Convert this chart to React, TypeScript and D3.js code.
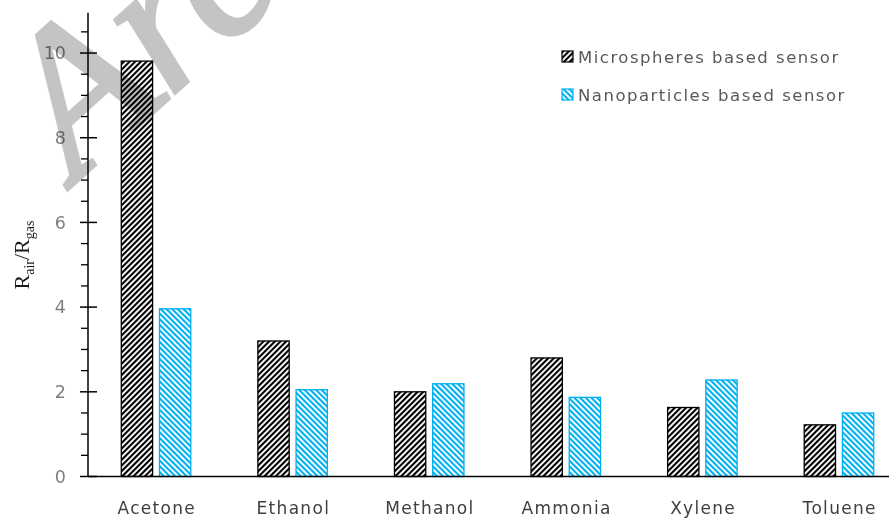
import React from "react";
import * as d3 from "d3";

const categories = ["Acetone", "Ethanol", "Methanol", "Ammonia", "Xylene", "Toluene"];
const seriesNames = ["Microspheres based sensor", "Nanoparticles based sensor"];
const microspheres = [9.81, 3.2, 2.0, 2.8, 1.63, 1.22];
const nanoparticles = [3.96, 2.05, 2.19, 1.87, 2.28, 1.5];
const majorTicks = [0, 2, 4, 6, 8, 10];

const W = 889;
const H = 520;

export default function App() {
  const y = d3.scaleLinear().domain([0, 10.95]).range([476.5, 12.8]);
  const x0 = d3.scaleBand<string>().domain(categories).range([87.5, 907]).padding(0);
  const x1 = d3.scaleBand<string>().domain(["m", "n"]).range([-34.5, 35]).paddingInner(0.18);
  const minor = d3.range(0, 10.96, 0.5).filter((v) => Math.abs(v % 2) > 1e-6);
  const axisX = 88;
  const blue = "#00b0f0";
  const sets = [
    { key: "m", vals: microspheres, fill: "url(#patBlack)", stroke: "#000" },
    { key: "n", vals: nanoparticles, fill: "url(#patBlue)", stroke: blue },
  ];
  return (
    <svg width={W} height={H} style={{ position: "absolute", left: 0, top: 0, background: "#fff" }}>
      <defs>
        <pattern id="patBlack" patternUnits="userSpaceOnUse" width="4" height="4" patternTransform="rotate(45)">
          <rect width="4" height="4" fill="#fff" />
          <rect width="2.1" height="4" fill="#000" />
        </pattern>
        <pattern id="patBlue" patternUnits="userSpaceOnUse" width="4" height="4" patternTransform="rotate(-45)">
          <rect width="4" height="4" fill="#fff" />
          <rect width="2.1" height="4" fill={blue} />
        </pattern>
      </defs>
      <rect width={W} height={H} fill="#fff" />
      {/* bars */}
      {categories.map((c, i) => (
        <g key={c} transform={`translate(${x0(c)! + x0.bandwidth() / 2},0)`}>
          {sets.map((s) => (
            <rect
              key={s.key}
              x={x1(s.key)!}
              y={y(s.vals[i])}
              width={x1.bandwidth()}
              height={y(0) - y(s.vals[i])}
              fill={s.fill}
              stroke={s.stroke}
              strokeWidth={1.3}
            />
          ))}
        </g>
      ))}
      {/* y axis */}
      <line x1={axisX} x2={axisX} y1={y(0)} y2={y(10.95)} stroke="#000" strokeWidth={1.5} />
      {majorTicks.map((t) => (
        <g key={t}>
          <line x1={axisX - 8} x2={axisX + 9} y1={y(t)} y2={y(t)} stroke="#000" strokeWidth={1.5} />
          <text
            x={66}
            y={y(t)}
            dy="0.36em"
            textAnchor="end"
            fontFamily="DejaVu Sans, sans-serif"
            fontSize={17.5}
            fill="#7f7f7f"
          >
            {t}
          </text>
        </g>
      ))}
      {minor.map((t) => (
        <line key={t} x1={axisX - 7} x2={axisX} y1={y(t)} y2={y(t)} stroke="#000" strokeWidth={1.3} />
      ))}
      {/* x axis */}
      <line x1={axisX} x2={W} y1={y(0)} y2={y(0)} stroke="#000" strokeWidth={1.5} />
      {categories.map((c) => (
        <text
          key={c}
          x={x0(c)! + x0.bandwidth() / 2 + 1}
          y={514}
          textAnchor="middle"
          fontFamily="DejaVu Sans, sans-serif"
          fontSize={17}
          letterSpacing={1.3}
          fill="#3f3f3f"
        >
          {c}
        </text>
      ))}
      {/* watermark */}
      <text
        transform="translate(76,182) rotate(-42)"
        fontFamily="Liberation Serif, serif"
        fontStyle="italic"
        fontSize={205}
        fill="#c4c4c4"
        stroke="#c4c4c4"
        strokeWidth={4}
        style={{ mixBlendMode: "multiply" }}
      >
        Arc
      </text>
      {/* y label */}
      <text
        transform="translate(29,255) rotate(-90)"
        textAnchor="middle"
        fontFamily="Liberation Serif, serif"
        fontSize={22}
        fill="#1a1a1a"
      >
        R<tspan fontSize={14} dy={5}>air</tspan>
        <tspan dy={-5}>/R</tspan>
        <tspan fontSize={14} dy={5}>gas</tspan>
      </text>
      {/* legend */}
      {seriesNames.map((n, i) => (
        <g key={n} transform={`translate(562,${51 + i * 38})`}>
          <rect x={0} y={0} width={11} height={11} fill={i === 0 ? "url(#patBlack)" : "url(#patBlue)"} stroke={i === 0 ? "#000" : blue} strokeWidth={1.2} />
          <text
            x={16}
            y={11.5}
            fontFamily="DejaVu Sans, sans-serif"
            fontSize={16.5}
            letterSpacing={1.5}
            fill="#595959"
          >
            {n}
          </text>
        </g>
      ))}
    </svg>
  );
}
